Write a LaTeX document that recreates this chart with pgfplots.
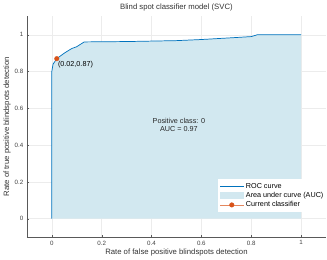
\documentclass[border=0pt]{standalone}
\usepackage{pgfplots}
\pgfplotsset{compat=1.18}
\usepackage{fontspec}
\setmainfont{Liberation Sans}
\definecolor{rocblue}{RGB}{0,114,189}
\definecolor{aucfill}{RGB}{210,232,240}
\definecolor{ptred}{RGB}{217,83,25}
\begin{document}
\begin{tikzpicture}
\begin{axis}[
  scale only axis,
  width=290pt, height=214pt,
  xmin=-0.1, xmax=1.1, ymin=-0.1, ymax=1.1,
  xtick={0,0.2,0.4,0.6,0.8,1}, ytick={0,0.2,0.4,0.6,0.8,1},
  axis x line*=bottom, axis y line*=left,
  axis line style={gray!70!black, line width=0.4pt},
  tick style={gray!70!black},
  tick align=inside, major tick length=2pt,
  grid=major, grid style={gray!15, line width=0.4pt},
  ticklabel style={font=\fontsize{6}{7}\selectfont, text=black!75},
  /pgf/number format/assume math mode=true,
  xlabel={Rate of false positive blindspots detection},
  ylabel={Rate of true positive blindspots detection},
  label style={font=\fontsize{7.5}{8.5}\selectfont, text=black!80},
  xlabel style={yshift=3pt},
  ylabel style={yshift=-3pt},
  title={Blind spot classifier model (SVC)},
  title style={font=\fontsize{7.5}{8.5}\selectfont, text=black!80, yshift=-4pt},
  legend style={at={(axis cs:1.105,0.125)}, anchor=east, draw=none, fill=white,
    font=\fontsize{7}{8}\selectfont, row sep=-1.5pt, inner sep=1.5pt},
  legend cell align=left,
  clip=false,
]
\addplot[fill=aucfill, draw=none, forget plot] coordinates {
 (0,0) (0,0.80) (0.005,0.84) (0.02,0.87) (0.05,0.90) (0.08,0.925) (0.1,0.935) (0.13,0.961) (0.3,0.963) (0.5,0.968) (0.6,0.974) (0.74,0.985) (0.8,0.99) (0.825,1.0) (1,1) (1,0)
} \closedcycle;
\addplot[rocblue, line width=0.7pt, legend image code/.code={\draw[rocblue, line width=0.7pt] (0cm,0cm) -- (0.8cm,0cm);}] coordinates {
 (0,0) (0,0.80) (0.005,0.84) (0.02,0.87) (0.05,0.90) (0.08,0.925) (0.1,0.935) (0.13,0.961) (0.3,0.963) (0.5,0.968) (0.6,0.974) (0.74,0.985) (0.8,0.99) (0.825,1.0) (1,1)
};
\addlegendimage{legend image code/.code={\fill[aucfill] (0cm,-0.1cm) rectangle (0.8cm,0.12cm);}}
\addplot[ptred!70, line width=0.4pt, mark=*, mark size=2.2pt, mark options={fill=ptred, draw=ptred},
  legend image code/.code={\draw[ptred!70, line width=0.4pt] (0cm,0cm) -- (0.8cm,0cm); \fill[ptred] (0.4cm,0cm) circle (2.2pt);}] coordinates {(0.02,0.87)};
\legend{ROC curve,Area under curve (AUC),Current classifier}
\node[anchor=north west, font=\fontsize{7}{8}\selectfont, inner sep=1pt] at (axis cs:0.02,0.862) {(0.02,0.87)};
\node[align=center, font=\fontsize{7}{8}\selectfont, text=black!85] at (axis cs:0.51,0.51) {Positive class: 0\\AUC = 0.97};
\end{axis}
\end{tikzpicture}
\end{document}
